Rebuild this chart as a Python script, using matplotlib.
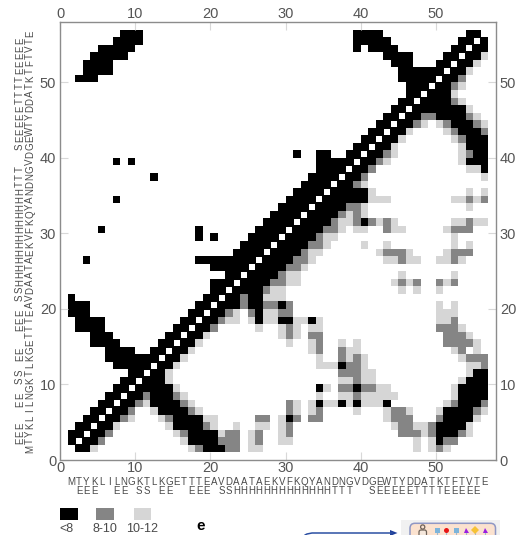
import numpy as np
import matplotlib
matplotlib.use("Agg")
import matplotlib.pyplot as plt
from matplotlib.colors import ListedColormap
from matplotlib.patches import FancyBboxPatch, Rectangle, Polygon, Ellipse
from matplotlib.transforms import blended_transform_factory

plt.rcParams["font.family"] = ["Liberation Sans", "DejaVu Sans"]

sequence = "MTYKLILNGKTLKGETTTEAVDAATAEKVFKQYANDNGVDGEWTYDDATKTFTVTE"
structure = " EEE  EE SS EE  EEE SS" + "HHHHHHHHHHHHH" + "TTT  SEEEEETTTTEEEEE "
ticks = [0, 10, 20, 30, 40, 50]
legend_labels = ["<8", "8-10", "10-12"]

# contacts by row: residue ranges
black = {
    1: "2-3 19-21", 2: "1-4 17-20 50", 3: "1-5 17-20 50-52", 4: "2-6 15-18 50-53",
    5: "3-7 15-18 30 51-54", 6: "4-8 13-16 51-54", 7: "5-9 12-15 34 37 39 43 53-55",
    8: "6-10 12-14 53-56", 9: "7-14 34 39 53-56", 10: "8-13 54-56", 11: "9-13 55-56",
    12: "7-14 37", 13: "6-15", 14: "6-9 12-16", 15: "4-7 13-17", 16: "4-6 14-18",
    17: "2-5 15-19", 18: "2-5 16-20 26 29-30 33", 19: "1-3 17-21 26", 20: "1-3 18-23 25-26 29",
    21: "1 19-23 25-26", 22: "20-26", 23: "20-27", 24: "22-28", 25: "20-29",
    26: "3 18-30", 27: "23-31", 28: "24-32", 29: "18 20 25-33", 30: "5 18 26-34",
    31: "27-35 40", 32: "28-36", 33: "29-37", 34: "7 30-40", 35: "31-40", 36: "32-38",
    37: "12 33-39", 38: "34-40 56", 39: "7 9 34-41 54-56", 40: "31 34-35 38-42 55-56",
    41: "39-43 54-56", 42: "40-44 54-56", 43: "41-45 53-55", 44: "42-46 52-54",
    45: "43-47 50-53", 46: "44-53", 47: "45-51", 48: "46-51", 49: "46-51", 50: "2-4 45-52",
    51: "3-6 45-53", 52: "3-6 44-46 50-54", 53: "4-8 43-46 51-55", 54: "5-9 39 41-44 52-56",
    55: "7-10 39-43 53-56", 56: "8-10 39-42 54-55",
}
mid = {
    1: "18 22-23 50", 2: "5 21-23 26 51-52", 3: "6 16 22-23 26 30 45-47 49 53",
    4: "19 30 45-46 49", 5: "8 14 26-27 31 33-34 44-46 50", 6: "9 17 30 34 44-45 55",
    7: "10 16 30 52 56", 8: "11 15 39", 9: "37-38 40-41", 10: "39", 11: "37-39",
    12: "38-39 56", 13: "37 39 54-56", 14: "34 37 53", 15: "34 51-54", 16: "30 33-34 51-53",
    17: "20 30 50-52", 18: "21 52", 19: "22 25 29-30", 20: "24 27-28 30", 21: "24",
    22: "27", 23: "28-29 45 47 50 52", 24: "29", 25: "30-31", 26: "31-32 45 52",
    27: "32 43-45 52-54", 28: "33-34", 29: "34", 30: "35-36 43 52-54",
    31: "36 39 41 43 54", 32: "37 39", 33: "38-39", 34: "54 56", 36: "39", 37: "40",
    38: "41", 39: "42", 40: "43 54", 42: "53", 43: "52 56", 44: "47 51 55",
    45: "48-49 54", 47: "52", 49: "52", 50: "53",
}
light = {
    1: "4 17 25-26 47 49 51", 2: "16 25 29-30 47 49", 3: "15 21 25 29 48 54",
    4: "7 14 20 23 26-27 29 44 47-48 54", 5: "9 13 19-20 29 43 55", 6: "12 18 31 33 39 43 46 50 56",
    7: "11 17 31 33 35-36 38 40-42 51", 8: "16 34 37-38 40-44 52", 9: "15 35 42-43 52",
    10: "14 37-38 40-41 53", 11: "14 40-41 54", 12: "15 34-36 40 54-55", 13: "16 34 38 40 53",
    14: "17 33 38-39 52 55", 15: "18 30 33 37 39 55", 16: "19 29 31 54", 17: "26 29 31 33-34 53",
    18: "22-23 25 27-28 31-32 34 50-51", 19: "23 27-28 50-52", 20: "50 52", 21: "27-29",
    22: "28-29 45 47 50", 23: "30-31 44 46 51", 24: "30-31 45 52", 25: "32",
    26: "33 43-44 46-47 50-51 53", 27: "33-34 42 46 51", 28: "35 40 43 52 54",
    29: "35-36 52", 30: "37 39-40 44-45 51", 31: "37-38 42 44 52-53 55-56", 32: "38 40",
    33: "40 54", 34: "41-43 52-53 55", 35: "41 54 56", 36: "40", 37: "56", 38: "54-55",
    39: "43 53", 40: "44 53", 41: "44 53", 42: "45 52", 43: "46 51", 44: "48 50 56",
    45: "55", 46: "54", 47: "53", 48: "52", 49: "53", 51: "54", 52: "55", 53: "56",
}
# residues on the diagonal, shown as small white squares
diagonal = [2, 3, 4, 5, 6, 7, 8, 9, 10, 11, 12, 13, 14, 15, 16, 17, 18, 19, 20, 21, 22, 23, 24,
            25, 26, 27, 28, 29, 30, 31, 32, 33, 34, 35, 36, 37, 38, 39, 40, 41, 42, 43, 44, 45,
            46, 47, 48, 49, 50, 51, 52, 53, 54, 55]


def fill(grid, rows, level):
    for row, runs in rows.items():
        for run in runs.split():
            first, _, last = run.partition("-")
            grid[row, int(first):int(last or first) + 1] = level


grid = np.zeros((58, 58))
fill(grid, light, 1)
fill(grid, mid, 2)
fill(grid, black, 3)

GREY = "#858585"
LIGHT = "#d6d6d6"
TXT = "#4a4a4a"
cmap = ListedColormap(["white", LIGHT, GREY, "black"])

W, H = 516, 535
fig = plt.figure(figsize=(W / 100, H / 100), dpi=100)
ax = fig.add_axes([60.3 / W, 1 - 460 / H, 435.4 / W, 438 / H])
ax.imshow(grid, cmap=cmap, vmin=0, vmax=3, origin="lower", extent=(0, 58, 0, 58),
          aspect="auto", interpolation="nearest")
centres = np.array(diagonal) + 0.5
ax.scatter(centres, centres, marker="s", s=16, color="white", linewidths=0, zorder=3)
ax.set_xlim(0, 58)
ax.set_ylim(0, 58)
ax.set_xticks(ticks)
ax.set_yticks(ticks)
ax.tick_params(axis="both", which="both", direction="in", length=5.5, width=0.8, color="#d8d8d8",
               labelcolor="#555555", labelsize=10.5, top=True, right=True, labeltop=True, labelright=True)
ax.tick_params(axis="x", pad=0.5)
ax.tick_params(axis="y", pad=3)
for s in ax.spines.values():
    s.set_color("#8c8c8c")
    s.set_linewidth(1.0)

# residue letters along both axes
xt = blended_transform_factory(ax.transData, fig.transFigure)
yt = blended_transform_factory(fig.transFigure, ax.transData)
for i, (aa, ss) in enumerate(zip(sequence, structure), start=1):
    ax.text(i + 0.5, 1 - 482 / H, aa, transform=xt, ha="center", va="center", fontsize=7, color=TXT)
    ax.text(i + 0.5, 1 - 491.5 / H, ss, transform=xt, ha="center", va="center", fontsize=7, color=TXT)
    ax.text(30 / W, i + 0.5, aa, transform=yt, ha="center", va="center", rotation=90, fontsize=7, color=TXT)
    ax.text(20 / W, i + 0.5, ss, transform=yt, ha="center", va="center", rotation=90, fontsize=7, color=TXT)

# everything under the plot sits in pixel coordinates
over = fig.add_axes([0, 0, 1, 1], facecolor="none")
over.set_xlim(0, W)
over.set_ylim(H, 0)
over.axis("off")

for x0, col, lab, xc in zip([60, 96.3, 133.7], ["black", GREY, LIGHT], legend_labels, [66.7, 105, 142]):
    over.add_patch(Rectangle((x0, 508.3), 17.5, 11.7, color=col, lw=0))
    over.text(xc, 528.5, lab, ha="center", va="center", fontsize=9, color=TXT)
over.text(201, 526, "e", ha="center", va="center", fontsize=11, fontweight="bold", color="black")

# cut-off panel e at the bottom edge
over.add_patch(Rectangle((400.7, 520), 99.3, 20, color="#f1f1f1", lw=0))
over.add_patch(FancyBboxPatch((412, 525.3), 81.5, 30, boxstyle="round,pad=2,rounding_size=5",
                              fc="#fbe2cf", ec="#8f97c4", lw=1.1))
over.plot([304, 305, 307, 312, 392], [537, 535, 534, 533, 533], color="#2b4fa3", lw=1.1)
over.add_patch(Polygon([[390, 530], [397.5, 533], [390, 536]], color="#1f3f9a", lw=0))

over.add_patch(Ellipse((422.7, 527), 4.2, 4.2, fc="none", ec="#6e6258", lw=0.9))
over.add_patch(FancyBboxPatch((419.5, 530.5), 6.5, 8, boxstyle="round,pad=0.5,rounding_size=2",
                              fc="#f4e7dc", ec="#6e6258", lw=0.9))
pin_x = [437, 446.3, 456, 465.7, 475.3, 484.7]
pin_c = ["#7db4da", "#e81515", "#7db4da", "#9a1fe0", "#f6c235", "#9a1fe0"]
pin_m = ["s", "o", "s", "^", "D", "^"]
for x, c, m in zip(pin_x, pin_c, pin_m):
    over.plot([x, x], [530, 537], color="#9fb9cf", lw=0.8)
    over.plot([x], [530], marker=m, color=c, ms=3.6, mew=0)

fig.savefig("out.png", dpi=100)
